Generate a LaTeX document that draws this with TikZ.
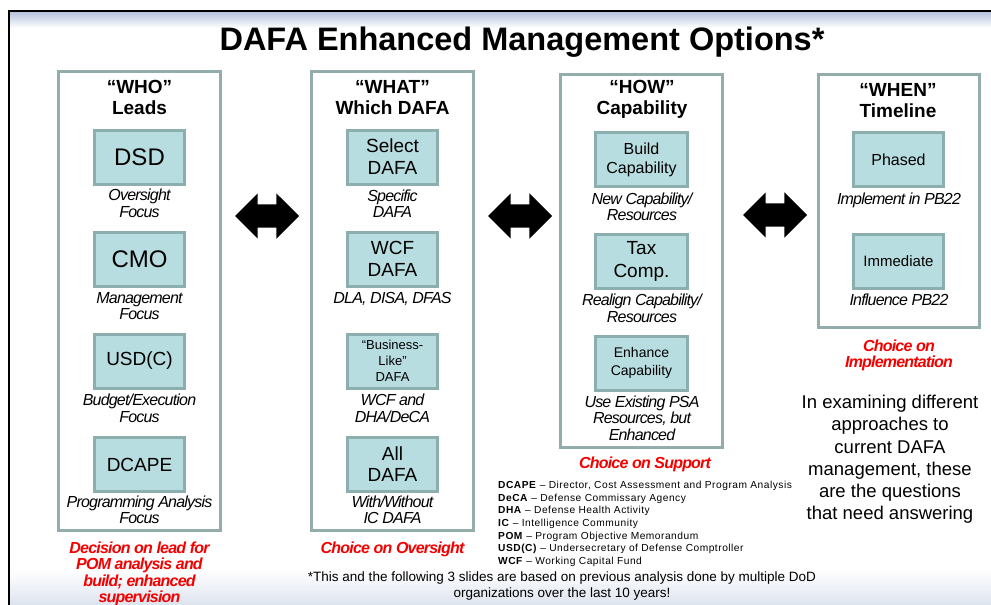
\documentclass[tikz,border=0pt]{standalone}
\usepackage{fontspec}
\setmainfont{Liberation Sans}
\newfontfamily\tightfont[LetterSpace=-5]{Liberation Sans}
\newfontfamily\legendfont[LetterSpace=5]{Liberation Sans}
\usepackage{xcolor}
\usepackage{tikz}
\usetikzlibrary{positioning,shapes.arrows}

\definecolor{optfill}{RGB}{184,221,224}
\definecolor{optedge}{RGB}{141,174,174}
\definecolor{coledge}{RGB}{147,172,172}
\definecolor{choicered}{RGB}{245,0,0}
\definecolor{bandblue}{RGB}{180,193,218}
\definecolor{bandgrey}{RGB}{221,227,238}

\newcommand{\fsz}[2]{\fontsize{#1}{#2}\selectfont}

\begin{document}
\begin{tikzpicture}[x=1pt,y=-1pt,
    colbox/.style={draw=coledge,line width=3pt,minimum width=162,inner sep=0},
    optbox/.style={draw=optedge,fill=optfill,line width=3pt,minimum width=90,minimum height=54,inner sep=0,align=center},
    colhead/.style={align=center,inner sep=0,font=\bfseries\fsz{19}{21}},
    optnote/.style={align=center,inner sep=0,font=\tightfont\itshape\fsz{16}{16.5}},
    choicetxt/.style={align=center,inner sep=0,text=choicered,font=\tightfont\bfseries\itshape\fsz{16}{16.5}},
    twoway/.style={double arrow,fill=black,draw=none,minimum height=64,inner xsep=0,inner ysep=11.5,double arrow head extend=11}]

    \useasboundingbox (0,0) rectangle (991,605);

    % Slide frame
    \shade [top color=bandblue,bottom color=white] (9.5,11.5) rectangle (991,28);
    \shade [top color=white,bottom color=bandgrey] (9.5,570) rectangle (991,605);
    \draw [line width=2pt] (8.5,605) -- (8.5,10.5) -- (991,10.5);

    \node [font=\bfseries\fsz{32.5}{36}] at (522,41.7) (title) {DAFA Enhanced Management Options*};

    % The columns
    \node [colbox,minimum height=459] at (139.5,301) (who) {};
    \node [colbox,minimum height=459] at (392.5,301) (what) {};
    \node [colbox,minimum height=373] at (641.5,261) (how) {};
    \node [colbox,minimum width=161,minimum height=253] at (899,201) (when) {};

    \node [colhead] at (139.5,97.5) (whohead) {“WHO”\\Leads};
    \node [colhead] at (392.5,97.5) (whathead) {“WHAT”\\Which DAFA};
    \node [colhead] at (642,99) (howhead) {“HOW”\\Capability};
    \node [colhead] at (898,101) (whenhead) {“WHEN”\\Timeline};

    % WHO options
    \node [optbox,font=\fsz{24}{26}] at (139.5,157) (dsd) {DSD};
    \node [optbox,font=\fsz{24}{26}] at (139.5,259) (cmo) {CMO};
    \node [optbox,font=\fsz{19}{22}] at (139.5,361) (usdc) {USD(C)};
    \node [optbox,font=\fsz{19}{22}] at (139.5,464.5) (dcape) {DCAPE};
    \node [optnote] at (139.5,203.5) (dsdnote) {Oversight\\Focus};
    \node [optnote] at (139.5,306) (cmonote) {Management\\Focus};
    \node [optnote] at (139.5,408.5) (usdcnote) {Budget/Execution\\Focus};
    \node [optnote] at (139.5,510) (dcapenote) {Programming Analysis\\Focus};
    \node [choicetxt] at (139.5,574) (whochoice) {Decision on lead for\\POM analysis and\\build; enhanced\\supervision};

    % WHAT options
    \node [optbox,font=\fsz{19}{22}] at (392.5,157) (select) {Select\\DAFA};
    \node [optbox,font=\fsz{19}{22}] at (392.5,259) (wcf) {WCF\\DAFA};
    \node [optbox,font=\fsz{13}{16}] at (392.5,361) (bizlike) {“Business-\\Like”\\DAFA};
    \node [optbox,font=\fsz{19}{21}] at (392.5,464.5) (alldafa) {All\\DAFA};
    \node [optnote] at (392.5,203.5) (selectnote) {Specific\\DAFA};
    \node [optnote] at (392.5,299) (wcfnote) {DLA, DISA, DFAS};
    \node [optnote] at (392.5,408.5) (bizlikenote) {WCF and\\DHA/DeCA};
    \node [optnote] at (392.5,510) (alldafanote) {With/Without\\IC DAFA};
    \node [choicetxt] at (392.5,549.5) (whatchoice) {Choice on Oversight};

    % HOW options
    \node [optbox,minimum width=92,font=\fsz{16}{19}] at (641.5,159.5) (build) {Build\\Capability};
    \node [optbox,minimum width=92,font=\fsz{19}{23}] at (641.5,261) (taxcomp) {Tax\\Comp.};
    \node [optbox,minimum width=92,font=\fsz{14}{18}] at (641.5,363) (enhance) {Enhance\\Capability};
    \node [optnote] at (642,207) (buildnote) {New Capability/\\Resources};
    \node [optnote] at (642,308.5) (taxcompnote) {Realign Capability/\\Resources};
    \node [optnote] at (642,418) (enhancenote) {Use Existing PSA\\Resources, but\\Enhanced};
    \node [choicetxt] at (645,464.5) (howchoice) {Choice on Support};

    % WHEN options
    \node [optbox,font=\fsz{16}{19}] at (898.5,159.5) (phased) {Phased};
    \node [optbox,font=\fsz{15}{18}] at (898.5,261.5) (immediate) {Immediate};
    \node [optnote] at (899,200) (phasednote) {Implement in PB22};
    \node [optnote] at (899,300) (immediatenote) {Influence PB22};
    \node [choicetxt] at (899,355.5) (whenchoice) {Choice on\\Implementation};

    % Links between the columns
    \node [twoway] at (267,216) (whowhat) {};
    \node [twoway] at (520,216) (whathow) {};
    \node [twoway] at (775,215) (howwhen) {};

    % Remarks
    \node [align=center,inner sep=0,font=\fsz{18.5}{22.2}] at (890,459.5) (remark) {In examining different\\approaches to\\current DAFA\\management, these\\are the questions\\that need answering};
    \node [anchor=west,align=left,inner sep=0,font=\legendfont\fsz{10.2}{12.67}] at (498,524) (legend) {\textbf{DCAPE} – Director, Cost Assessment and Program Analysis\\\textbf{DeCA} – Defense Commissary Agency\\\textbf{DHA} – Defense Health Activity\\\textbf{IC} – Intelligence Community\\\textbf{POM} – Program Objective Memorandum\\\textbf{USD(C)} – Undersecretary of Defense Comptroller\\\textbf{WCF} – Working Capital Fund};
    \node [align=center,inner sep=0,font=\fsz{13.5}{16}] at (562,586) (footnote) {*This and the following 3 slides are based on previous analysis done by multiple DoD\\organizations over the last 10 years!};

\end{tikzpicture}
\end{document}
